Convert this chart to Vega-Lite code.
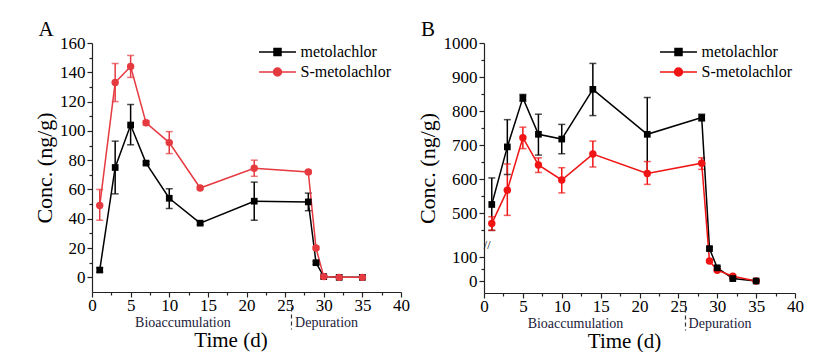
{
  "$schema": "https://vega.github.io/schema/vega-lite/v6.json",
  "padding": {"left": 33, "top": 19, "right": 5, "bottom": 0},
  "background": "white",
  "datasets": {
    "A": [
      {"t": 1, "series": "metolachlor", "conc": 5, "lo": 3.5, "hi": 6.5},
      {"t": 3, "series": "metolachlor", "conc": 75, "lo": 57, "hi": 93},
      {"t": 5, "series": "metolachlor", "conc": 104, "lo": 90.5, "hi": 118},
      {"t": 7, "series": "metolachlor", "conc": 78, "lo": 77, "hi": 79},
      {"t": 10, "series": "metolachlor", "conc": 54, "lo": 47, "hi": 60.5},
      {"t": 14, "series": "metolachlor", "conc": 37, "lo": 36, "hi": 38},
      {"t": 21, "series": "metolachlor", "conc": 52, "lo": 39, "hi": 65},
      {"t": 28, "series": "metolachlor", "conc": 51.5, "lo": 45.5, "hi": 57.5},
      {"t": 29, "series": "metolachlor", "conc": 10, "lo": 9, "hi": 11},
      {"t": 30, "series": "metolachlor", "conc": 0.5, "lo": 0, "hi": 1},
      {"t": 32, "series": "metolachlor", "conc": 0, "lo": 0, "hi": 0.5},
      {"t": 35, "series": "metolachlor", "conc": 0, "lo": 0, "hi": 0.5},
      {"t": 1, "series": "S-metolachlor", "conc": 49, "lo": 39, "hi": 60},
      {"t": 3, "series": "S-metolachlor", "conc": 133, "lo": 120, "hi": 146},
      {"t": 5, "series": "S-metolachlor", "conc": 144, "lo": 136.5, "hi": 151.5},
      {"t": 7, "series": "S-metolachlor", "conc": 105.5, "lo": 104, "hi": 107},
      {"t": 10, "series": "S-metolachlor", "conc": 92, "lo": 84.5, "hi": 99.5},
      {"t": 14, "series": "S-metolachlor", "conc": 61, "lo": 60, "hi": 62},
      {"t": 21, "series": "S-metolachlor", "conc": 74.5, "lo": 69, "hi": 80},
      {"t": 28, "series": "S-metolachlor", "conc": 72, "lo": 71, "hi": 73},
      {"t": 29, "series": "S-metolachlor", "conc": 20, "lo": 19, "hi": 21},
      {"t": 30, "series": "S-metolachlor", "conc": 0.5, "lo": 0, "hi": 1},
      {"t": 32, "series": "S-metolachlor", "conc": 0, "lo": 0, "hi": 0.5},
      {"t": 35, "series": "S-metolachlor", "conc": 0, "lo": 0, "hi": 0.5}
    ],
    "B": [
      {"t": 1, "series": "metolachlor", "conc": 526, "lo": 450, "hi": 604},
      {"t": 3, "series": "metolachlor", "conc": 695, "lo": 614, "hi": 775},
      {"t": 5, "series": "metolachlor", "conc": 839, "lo": 829, "hi": 849},
      {"t": 7, "series": "metolachlor", "conc": 732, "lo": 671, "hi": 791},
      {"t": 10, "series": "metolachlor", "conc": 718, "lo": 675, "hi": 761},
      {"t": 14, "series": "metolachlor", "conc": 864, "lo": 787, "hi": 940},
      {"t": 21, "series": "metolachlor", "conc": 732, "lo": 620, "hi": 840},
      {"t": 28, "series": "metolachlor", "conc": 781, "lo": 771, "hi": 791},
      {"t": 29, "series": "metolachlor", "conc": 135, "lo": 130, "hi": 140},
      {"t": 30, "series": "metolachlor", "conc": 55, "lo": 50, "hi": 60},
      {"t": 32, "series": "metolachlor", "conc": 10, "lo": 8, "hi": 12},
      {"t": 35, "series": "metolachlor", "conc": 0, "lo": 0, "hi": 2},
      {"t": 1, "series": "S-metolachlor", "conc": 470, "lo": 450, "hi": 490},
      {"t": 3, "series": "S-metolachlor", "conc": 568, "lo": 494, "hi": 645},
      {"t": 5, "series": "S-metolachlor", "conc": 722, "lo": 690, "hi": 753},
      {"t": 7, "series": "S-metolachlor", "conc": 642, "lo": 620, "hi": 663},
      {"t": 10, "series": "S-metolachlor", "conc": 598, "lo": 560, "hi": 634},
      {"t": 14, "series": "S-metolachlor", "conc": 674, "lo": 636, "hi": 712},
      {"t": 21, "series": "S-metolachlor", "conc": 617, "lo": 585, "hi": 652},
      {"t": 28, "series": "S-metolachlor", "conc": 647, "lo": 629, "hi": 663},
      {"t": 29, "series": "S-metolachlor", "conc": 83, "lo": 78, "hi": 88},
      {"t": 30, "series": "S-metolachlor", "conc": 45, "lo": 40, "hi": 50},
      {"t": 32, "series": "S-metolachlor", "conc": 20, "lo": 17, "hi": 23},
      {"t": 35, "series": "S-metolachlor", "conc": 0, "lo": 0, "hi": 2}
    ],
    "phases": [
      {"t": 11.7, "label": "Bioaccumulation"},
      {"t": 25.8, "label": ""},
      {"t": 30.3, "label": "Depuration"}
    ]
  },
  "hconcat": [
    {
      "width": 309,
      "height": 249,
      "title": {"text": "A"},
      "resolve": {"axis": {"x": "independent"}},
      "layer": [
        {
          "data": {"name": "A"},
          "encoding": {
            "x": {"field": "t", "type": "quantitative",
                  "scale": {"domain": [0, 40], "nice": false, "zero": false},
                  "axis": {"title": null, "values": [0,2.5,5,7.5,10,12.5,15,17.5,20,22.5,25,27.5,30,32.5,35,37.5,40],
                           "labelExpr": "datum.value % 5 === 0 ? datum.label : ''",
                           "tickSize": {"condition": {"test": "datum.value % 5 === 0", "value": 5}, "value": 3},
                           "labelPadding": 0, "labelFont": "Liberation Serif"}},
            "y": {"field": "conc", "type": "quantitative",
                  "scale": {"domain": [-10, 160], "nice": false, "zero": false},
                  "axis": {"title": "Conc. (ng/g)", "values": [0,10,20,30,40,50,60,70,80,90,100,110,120,130,140,150,160],
                           "labelExpr": "datum.value % 20 === 0 ? datum.label : ''",
                           "tickSize": {"condition": {"test": "datum.value % 20 === 0", "value": 5}, "value": 3},
                           "labelPadding": 2, "titlePadding": 3, "labelFont": "Liberation Serif"}}
          },
          "layer": [
            {
              "mark": {"type": "point", "filled": true},
              "encoding": {
                "opacity": {"value": 0},
                "fill": {"field": "series", "type": "nominal",
                         "scale": {"domain": ["metolachlor", "S-metolachlor"], "range": ["#000000", "#e53a40"]},
                         "legend": {"title": null, "orient": "none", "legendX": 177.5, "legendY": 1, "labelFont": "Liberation Serif"}},
                "stroke": {"field": "series", "type": "nominal",
                         "scale": {"domain": ["metolachlor", "S-metolachlor"], "range": ["#000000", "#e53a40"]},
                         "legend": {"title": null, "orient": "none", "legendX": 177.5, "legendY": 1, "labelFont": "Liberation Serif"}},
                "shape": {"field": "series", "type": "nominal",
                          "scale": {"domain": ["metolachlor", "S-metolachlor"],
                                    "range": ["M-2.64,0H2.64M-0.5,-0.5H0.5V0.5H-0.5Z", "M-2.64,0H2.64M0.57,0A0.57,0.57,0,1,1,-0.57,0A0.57,0.57,0,1,1,0.57,0Z"]},
                          "legend": {"title": null, "orient": "none", "legendX": 177.5, "legendY": 1, "labelFont": "Liberation Serif"}}
              }
            },
            {
              "mark": {"type": "rule", "strokeWidth": 1.5},
              "encoding": {
                "y": {"field": "lo", "type": "quantitative"},
                "y2": {"field": "hi"},
                "color": {"field": "series", "type": "nominal", "scale": {"domain": ["metolachlor", "S-metolachlor"], "range": ["#000000", "#e53a40"]}, "legend": null}
              }
            },
            {
              "mark": {"type": "tick", "orient": "horizontal", "size": 7, "thickness": 1.5},
              "encoding": {
                "y": {"field": "hi", "type": "quantitative"},
                "color": {"field": "series", "type": "nominal", "scale": {"domain": ["metolachlor", "S-metolachlor"], "range": ["#000000", "#e53a40"]}, "legend": null}
              }
            },
            {
              "mark": {"type": "tick", "orient": "horizontal", "size": 7, "thickness": 1.5},
              "encoding": {
                "y": {"field": "lo", "type": "quantitative"},
                "color": {"field": "series", "type": "nominal", "scale": {"domain": ["metolachlor", "S-metolachlor"], "range": ["#000000", "#e53a40"]}, "legend": null}
              }
            },
            {
              "mark": {"type": "line", "strokeWidth": 1.5},
              "encoding": {
                "color": {"field": "series", "type": "nominal", "scale": {"domain": ["metolachlor", "S-metolachlor"], "range": ["#000000", "#e53a40"]}, "legend": null}
              }
            },
            {
              "transform": [{"filter": "datum.series === 'metolachlor'"}],
              "mark": {"type": "point", "shape": "square", "filled": true, "size": 45, "color": "#000000", "opacity": 1}
            },
            {
              "transform": [{"filter": "datum.series === 'S-metolachlor'"}],
              "mark": {"type": "point", "shape": "circle", "filled": true, "size": 55, "color": "#e53a40", "opacity": 1}
            }
          ]
        },
        {
          "data": {"name": "phases"},
          "mark": {"type": "point", "opacity": 0},
          "encoding": {
            "x": {"field": "t", "type": "quantitative",
                  "scale": {"domain": [0, 40], "nice": false, "zero": false},
                  "axis": {"orient": "bottom", "offset": 8, "domain": false, "title": "Time (d)",
                           "values": [11.7, 25.8, 30.3],
                           "labelExpr": "datum.value === 11.7 ? 'Bioaccumulation' : (datum.value === 30.3 ? 'Depuration' : '')",
                           "tickOpacity": {"condition": {"test": "datum.value === 25.8", "value": 1}, "value": 0},
                           "tickDash": [4, 3], "tickSize": 29, "tickWidth": 1.2, "tickColor": "#333",
                           "labelPadding": -14, "labelFontSize": 14, "labelColor": "#221a3a", "labelFont": "Liberation Serif",
                           "titlePadding": 0, "titleFontSize": 21, "titleX": 138.5}}
          }
        }
      ]
    },
    {
      "width": 311,
      "height": 250,
      "title": {"text": "B"},
      "resolve": {"axis": {"x": "independent"}},
      "layer": [
        {
          "data": {"name": "B"},
          "encoding": {
            "x": {"field": "t", "type": "quantitative",
                  "scale": {"domain": [0, 40], "nice": false, "zero": false},
                  "axis": {"title": null, "values": [0,2.5,5,7.5,10,12.5,15,17.5,20,22.5,25,27.5,30,32.5,35,37.5,40],
                           "labelExpr": "datum.value % 5 === 0 ? datum.label : ''",
                           "tickSize": {"condition": {"test": "datum.value % 5 === 0", "value": 5}, "value": 3},
                           "labelPadding": 0, "labelFont": "Liberation Serif"}},
            "y": {"field": "conc", "type": "quantitative",
                  "scale": {"type": "linear", "domain": [-50, 150, 410, 1000], "range": [250, 202, 201, 0], "nice": false, "zero": false},
                  "axis": {"title": "Conc. (ng/g)", "values": [0, 50, 100, 152, 450, 500, 550, 600, 650, 700, 750, 800, 850, 900, 950, 1000],
                           "labelExpr": "datum.value === 152 ? '//' : (datum.value % 100 === 0 ? '' + datum.value : '')",
                           "tickSize": {"condition": {"test": "datum.value % 100 === 0", "value": 5}, "value": 3},
                           "tickOpacity": {"condition": {"test": "datum.value === 152", "value": 0}, "value": 1},
                           "labelPadding": {"condition": {"test": "datum.value === 152", "value": -9}, "value": 2},
                           "labelFontSize": {"condition": {"test": "datum.value === 152", "value": 12}, "value": 17},
                           "titlePadding": 4, "labelFont": "Liberation Serif"}}
          },
          "layer": [
            {
              "mark": {"type": "point", "filled": true},
              "encoding": {
                "opacity": {"value": 0},
                "fill": {"field": "series", "type": "nominal",
                         "scale": {"domain": ["metolachlor", "S-metolachlor"], "range": ["#000000", "#f01414"]},
                         "legend": {"title": null, "orient": "none", "legendX": 186.5, "legendY": 1, "labelFont": "Liberation Serif"}},
                "stroke": {"field": "series", "type": "nominal",
                         "scale": {"domain": ["metolachlor", "S-metolachlor"], "range": ["#000000", "#f01414"]},
                         "legend": {"title": null, "orient": "none", "legendX": 186.5, "legendY": 1, "labelFont": "Liberation Serif"}},
                "shape": {"field": "series", "type": "nominal",
                          "scale": {"domain": ["metolachlor", "S-metolachlor"],
                                    "range": ["M-2.64,0H2.64M-0.5,-0.5H0.5V0.5H-0.5Z", "M-2.64,0H2.64M0.57,0A0.57,0.57,0,1,1,-0.57,0A0.57,0.57,0,1,1,0.57,0Z"]},
                          "legend": {"title": null, "orient": "none", "legendX": 186.5, "legendY": 1, "labelFont": "Liberation Serif"}}
              }
            },
            {
              "mark": {"type": "rule", "strokeWidth": 1.5},
              "encoding": {
                "y": {"field": "lo", "type": "quantitative"},
                "y2": {"field": "hi"},
                "color": {"field": "series", "type": "nominal", "scale": {"domain": ["metolachlor", "S-metolachlor"], "range": ["#000000", "#f01414"]}, "legend": null}
              }
            },
            {
              "mark": {"type": "tick", "orient": "horizontal", "size": 7, "thickness": 1.5},
              "encoding": {
                "y": {"field": "hi", "type": "quantitative"},
                "color": {"field": "series", "type": "nominal", "scale": {"domain": ["metolachlor", "S-metolachlor"], "range": ["#000000", "#f01414"]}, "legend": null}
              }
            },
            {
              "mark": {"type": "tick", "orient": "horizontal", "size": 7, "thickness": 1.5},
              "encoding": {
                "y": {"field": "lo", "type": "quantitative"},
                "color": {"field": "series", "type": "nominal", "scale": {"domain": ["metolachlor", "S-metolachlor"], "range": ["#000000", "#f01414"]}, "legend": null}
              }
            },
            {
              "mark": {"type": "line", "strokeWidth": 1.5},
              "encoding": {
                "color": {"field": "series", "type": "nominal", "scale": {"domain": ["metolachlor", "S-metolachlor"], "range": ["#000000", "#f01414"]}, "legend": null}
              }
            },
            {
              "transform": [{"filter": "datum.series === 'S-metolachlor'"}],
              "mark": {"type": "point", "shape": "circle", "filled": true, "size": 55, "color": "#f01414", "opacity": 1}
            },
            {
              "transform": [{"filter": "datum.series === 'metolachlor'"}],
              "mark": {"type": "point", "shape": "square", "filled": true, "size": 45, "color": "#000000", "opacity": 1}
            }
          ]
        },
        {
          "data": {"name": "phases"},
          "mark": {"type": "point", "opacity": 0},
          "encoding": {
            "x": {"field": "t", "type": "quantitative",
                  "scale": {"domain": [0, 40], "nice": false, "zero": false},
                  "axis": {"orient": "bottom", "offset": 8, "domain": false, "title": "Time (d)",
                           "values": [11.7, 25.8, 30.3],
                           "labelExpr": "datum.value === 11.7 ? 'Bioaccumulation' : (datum.value === 30.3 ? 'Depuration' : '')",
                           "tickOpacity": {"condition": {"test": "datum.value === 25.8", "value": 1}, "value": 0},
                           "tickDash": [4, 3], "tickSize": 29, "tickWidth": 1.2, "tickColor": "#333",
                           "labelPadding": -14, "labelFontSize": 14, "labelColor": "#221a3a", "labelFont": "Liberation Serif",
                           "titlePadding": 0, "titleFontSize": 21, "titleX": 140}}
          }
        }
      ]
    }
  ],
  "spacing": 6,
  "resolve": {
    "scale": {"color": "independent", "fill": "independent", "stroke": "independent", "shape": "independent"},
    "legend": {"color": "independent", "fill": "independent", "stroke": "independent", "shape": "independent"}
  },
  "config": {
    "view": {"stroke": null},
    "axis": {
      "grid": false, "domainColor": "#222", "tickColor": "#222", "domainWidth": 1.2, "tickWidth": 1.2,
      "labelFont": "Liberation Serif", "titleFont": "Liberation Serif",
      "labelFontSize": 17, "titleFontSize": 22, "titleFontWeight": "normal",
      "labelColor": "#000", "titleColor": "#000",
      "labelOverlap": false, "labelFlush": false, "labelBound": false
    },
    "legend": {
      "labelFont": "Liberation Serif", "labelFontSize": 16, "labelColor": "#000",
      "symbolSize": 196, "symbolStrokeWidth": 1.5, "symbolOpacity": 1,
      "labelOffset": 15, "rowPadding": 4, "padding": 0, "labelLimit": 300
    },
    "title": {
      "font": "Liberation Serif", "fontSize": 21, "fontWeight": "normal", "color": "#000",
      "anchor": "start", "frame": "bounds", "offset": -6, "dx": 5
    }
  }
}
